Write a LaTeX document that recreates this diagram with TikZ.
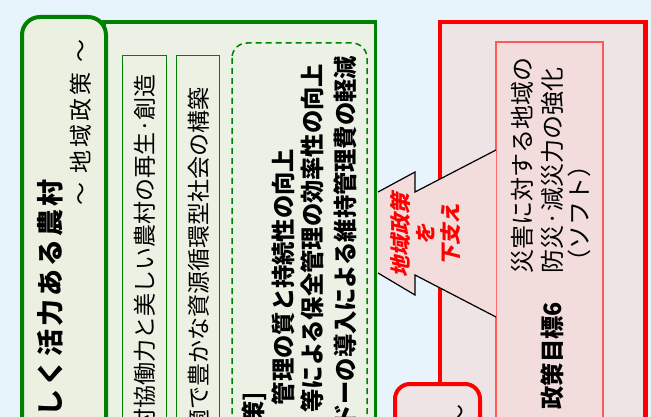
\documentclass[tikz,border=0pt]{standalone}
\usepackage{fontspec}
\newfontfamily\jp{Noto Sans CJK JP}
\newfontfamily\jpb{Noto Sans CJK JP}[FakeStretch=0.97]
\newfontfamily\jpsl{Noto Sans CJK JP}[FakeSlant=0.25]
\definecolor{bgc}{HTML}{E8F4FC}
\definecolor{grn}{HTML}{008000}
\definecolor{gfill}{HTML}{EBF1E5}
\definecolor{tabfill}{HTML}{ECF0E1}
\definecolor{ifill}{HTML}{EDF1E3}
\definecolor{redc}{HTML}{FF0000}
\definecolor{rfill}{HTML}{EEE4E6}
\definecolor{rin}{HTML}{F2DCDC}
\definecolor{rthin}{HTML}{FF5A5A}
\begin{document}
\begin{tikzpicture}[x=1pt,y=-1pt,
  vt/.style={rotate=90, inner sep=0pt, outer sep=0pt, font=\jp\fontsize{23}{23}\selectfont},
  vtb/.style={vt, font=\jpb\bfseries\fontsize{24}{24}\selectfont},
  vtr/.style={vt, font=\jp\fontsize{24}{24}\selectfont},
  gbox/.style={draw=grn, line width=1pt, fill=ifill}]
\useasboundingbox (0,0) rectangle (651,417);
\clip (0,0) rectangle (651,417);
\fill[bgc] (0,0) rectangle (651,417);

% green part
\draw[draw=grn, line width=3.5pt, fill=gfill] (104,22) rectangle (375.5,440);
\draw[draw=grn, line width=4pt, fill=tabfill, rounded corners=18pt] (22,17) rectangle (106,460);
\draw[gbox] (122,56) rectangle (166,440);
\draw[gbox] (176,56) rectangle (219,440);
\draw[draw=grn, line width=1.5pt, dash pattern=on 6pt off 4pt, rounded corners=15pt] (232,43) rectangle (367,460);

\node[vt, anchor=base east, font=\jp\bfseries\fontsize{27}{27}\selectfont] (title) at (60.3,179)
  {し\hspace{3pt}く\hspace{3pt}活\hspace{3pt}力\hspace{3pt}あ\hspace{3pt}る\hspace{3pt}農\hspace{3pt}村};
\node[vt, anchor=base east] (sub) at (89.7,39)
  {～\hspace{10pt}地\hspace{3pt}域\hspace{3pt}政\hspace{3pt}策\hspace{10pt}～};
\node[vt, anchor=base east] (b1) at (153.7,74) {村協働力と美しい農村の再生·創造};
\node[vt, anchor=base east] (b2) at (207.7,87) {適で豊かな資源循環型社会の構築};

\node[vtb, anchor=base east] (h) at (262,392) {策]};
\node[vtb, anchor=base east] (la) at (292,149) {管理の質と持続性の向上};
\node[vtb, anchor=base east] (lb) at (321,64) {等による保全管理の効率性の向上};
\node[vtb, anchor=base east] (lc) at (354,56) {ドーの導入による維持管理費の軽減};

% red part
\draw[draw=redc, line width=4.5pt, fill=rfill] (440,22) rectangle (645.5,460);
\draw[draw=rthin, line width=1.2pt, fill=rin] (496,42) rectangle (603,460);

\fill[rin] (496,150) -- (415,192) -- (415,172) -- (378,192) -- (378,273) -- (415,295) -- (415,275) -- (496,317) -- cycle;
\draw[black, line width=1.2pt, line join=miter] (496,150) -- (415,192) -- (415,172) -- (378,192);
\draw[black, line width=1.2pt, line join=miter] (378,273) -- (415,295) -- (415,275) -- (496,317);
\node[rotate=90, inner sep=0pt, align=center, text=redc, font=\jpsl\bfseries\fontsize{21}{25}\selectfont] (arr) at (425.5,235)
  {地域政策\\を\\下支え};

\draw[draw=redc, line width=4pt, fill=rfill, rounded corners=15pt] (395,384) rectangle (480,470);
\node[vt, anchor=base east] (rsub) at (468.7,404) {～};

\node[vtr, anchor=base west] (r1) at (531.1,273) {災害に対する地域の};
\node[vtr, anchor=base west] (r2) at (561.1,273) {防災·減災力の強化};
\node[vtr, anchor=base west] (r3) at (588.1,273) {（ソフト）};
\node[vtb, anchor=base east] (goal) at (561,302) {政策目標6};
\end{tikzpicture}
\end{document}
